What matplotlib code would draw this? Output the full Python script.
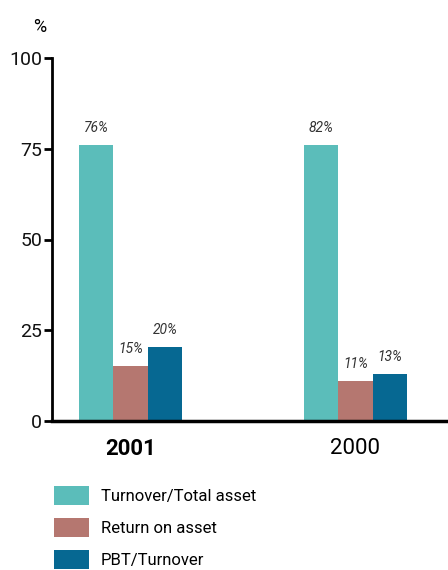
import matplotlib
matplotlib.use("Agg")
import matplotlib.pyplot as plt
import numpy as np

plt.rcParams['font.family'] = ['Roboto', 'DejaVu Sans']

years = ["2001", "2000"]
series_names = ["Turnover/Total asset", "Return on asset", "PBT/Turnover"]
turnover = [76, 76]
return_on_asset = [15.2, 11.0]
pbt = [20.4, 12.9]
turnover_labels = ["76%", "82%"]
roa_labels = ["15%", "11%"]
pbt_labels = ["20%", "13%"]
yticks = [0, 25, 50, 75, 100]
colors = ["#5BBDBA", "#B57770", "#066892"]

fig = plt.figure(figsize=(4.48, 5.70), dpi=100)
ax = fig.add_axes([52/448, 149/570, 396/448, 363/570])

x = np.arange(len(years))
w = 0.1534
series = [turnover, return_on_asset, pbt]
labels = [turnover_labels, roa_labels, pbt_labels]
for i, (vals, labs, c, name) in enumerate(zip(series, labels, colors, series_names)):
    xs = x + (i - 1) * w
    bars = ax.bar(xs, vals, width=w, color=c, label=name, zorder=2)
    for b, lab in zip(bars, labs):
        ax.annotate(lab, (b.get_x() + b.get_width()/2, b.get_height()),
                    xytext=(0, 7), textcoords="offset points",
                    ha="center", va="bottom", fontsize=10, style="italic",
                    color="#333333")

ax.set_xlim(-0.349, 1.412)
ax.set_ylim(0, 100)
ax.set_yticks(yticks)
ax.set_yticklabels([str(t) for t in yticks], fontsize=14, color="#111111")
ax.set_xticks(x)
ax.set_xticklabels(years, fontsize=16)
ax.get_xticklabels()[0].set_fontweight("bold")
ax.tick_params(axis="x", length=0, pad=12)
ax.tick_params(axis="y", length=6, width=2, pad=1)
for s in ["top", "right"]:
    ax.spines[s].set_visible(False)
ax.spines["left"].set_linewidth(2)
ax.spines["bottom"].set_linewidth(2.5)

fig.text(40/448, 1 - 27/570, "%", fontsize=13, ha="center", va="center")

leg = ax.legend(loc="upper left", bbox_to_anchor=(54/448, 1 - 486/570),
                bbox_transform=fig.transFigure, frameon=False, fontsize=12,
                handlelength=2.1, handleheight=1.35, labelspacing=0.8,
                handletextpad=0.7, borderpad=0, borderaxespad=0)

fig.savefig("out.png", dpi=100)
